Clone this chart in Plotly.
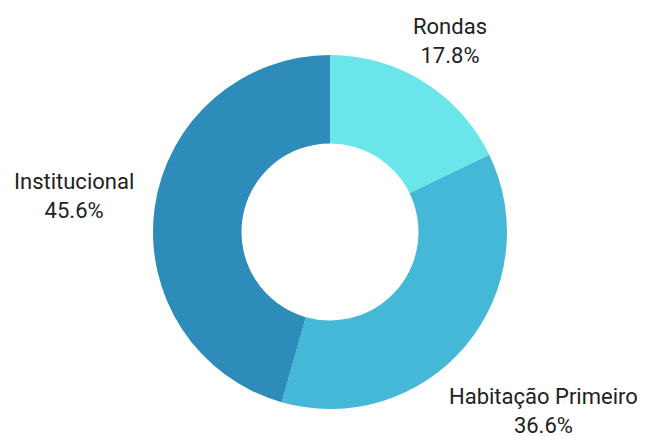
import math
import plotly.graph_objects as go

labels = ["Rondas", "Habitação Primeiro", "Institucional"]
values = [17.8, 36.6, 45.6]
colors = ["#6ae6ea", "#44b8d6", "#2e8cba"]

W, H = 647, 436
CX, CY, R = 330, 232, 177      # pie centre and outer radius in px
HOLE = 0.5
LABEL_GAP = 7                   # gap between pie edge and label box
FONT_SIZE = 22

fig = go.Figure(go.Pie(
    labels=labels,
    values=values,
    hole=HOLE,
    sort=False,
    direction="clockwise",
    rotation=0,
    marker=dict(colors=colors, line=dict(width=0)),
    textposition="none",
    showlegend=False,
    hoverinfo="label+percent",
    domain=dict(x=[(CX - R) / W, (CX + R) / W],
                y=[1 - (CY + R) / H, 1 - (CY - R) / H]),
))

# outside labels: place text box so it just clears the pie along the slice's mid-angle
total = sum(values)
cum = 0.0
annotations = []
for lab, v in zip(labels, values):
    mid = (cum + v / 2) / total * 2 * math.pi
    cum += v
    s, c = math.sin(mid), -math.cos(mid)      # screen direction (y down)
    lines = [lab, f"{v / total * 100:.1f}%"]
    bw = max(len(t) for t in lines) * 0.5 * FONT_SIZE
    bh = len(lines) * 1.3 * FONT_SIZE
    d = R + LABEL_GAP + abs(s) * bw / 2 + abs(c) * bh / 2
    px, py = CX + d * s, CY + d * c
    annotations.append(dict(
        x=px / W, y=1 - py / H, xref="paper", yref="paper",
        text="<br>".join(lines), showarrow=False,
        xanchor="center", yanchor="middle", align="center",
        font=dict(family="Roboto", size=FONT_SIZE, color="#222222"),
    ))

fig.update_layout(
    width=W, height=H,
    margin=dict(l=0, r=0, t=0, b=0),
    paper_bgcolor="white",
    plot_bgcolor="white",
    annotations=annotations,
)

fig.write_html("out.html")
